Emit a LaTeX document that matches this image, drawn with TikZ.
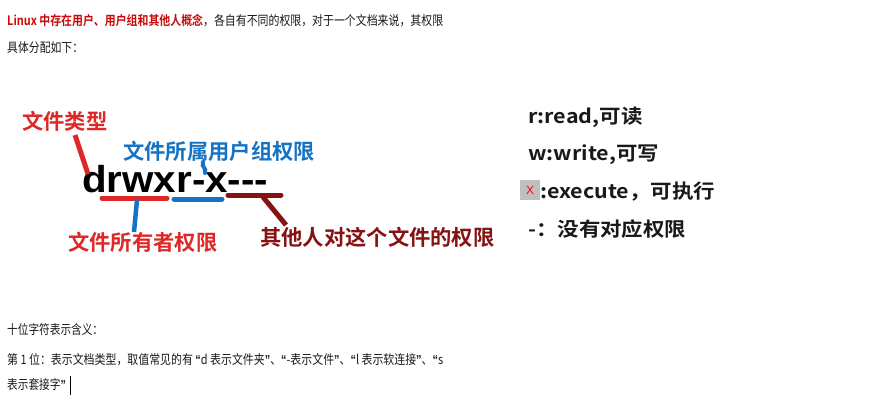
\documentclass[tikz,border=0pt]{standalone}
\usepackage{graphicx}
\usepackage{fontspec}
\setmainfont{Noto Sans CJK SC}
\newfontfamily\cjk{Noto Sans CJK SC}
\newfontfamily\cjkb{Noto Sans CJK SC Bold}
\newfontfamily\lat{Liberation Sans}
\definecolor{tred}{RGB}{200,10,10}
\definecolor{lred}{RGB}{222,40,40}
\definecolor{lblue}{RGB}{20,115,195}
\definecolor{dred}{RGB}{135,18,18}
\definecolor{txt}{RGB}{25,25,25}
\newcommand{\sqA}[1]{\scalebox{0.835}[1]{#1}}
\newcommand{\sqB}[1]{\scalebox{0.82}[1]{#1}}
\newcommand{\wideP}[1]{\scalebox{1.1}[1]{#1}}
\newcommand{\myLQ}{{\lat\bfseries “}}
\newcommand{\myRQ}{{\lat\bfseries ”}}
\tikzset{
  body/.style={anchor=base west,inner sep=0pt,text=txt,font=\cjk\fontsize{13}{15}\selectfont},
  lbl/.style={anchor=base west,inner sep=0pt,font=\cjkb\fontsize{21.3}{23}\selectfont},
  perm/.style={anchor=base west,inner sep=0pt,text=txt,font=\cjkb\fontsize{19.5}{21}\selectfont},
  uline/.style={line width=5pt,line cap=round},
}
\begin{document}
\begin{tikzpicture}[x=1pt,y=-1pt]
\useasboundingbox[fill=white] (0,0) rectangle (885,413);
% top paragraph
\node[body] (t1) at (7,25) {\resizebox{436pt}{\height}{{\cjkb\color{tred}Linux 中存在用户、用户组和其他人概念}，各自有不同的权限，对于一个文档来说，其权限}};
\node[body] (t2) at (7,52) {\sqA{具体分配如下：}};
% main string
\node[anchor=base west,inner sep=0pt,font=\lat\bfseries\fontsize{37.5}{40}\selectfont] (perm) at (82,192) {\resizebox{186pt}{\height}{drwxr-x---}};
% underlines
\coordinate (ua) at (102,198); \coordinate (ub) at (167,198);
\coordinate (ga) at (174,199); \coordinate (gb) at (222,199);
\coordinate (oa) at (228,195); \coordinate (ob) at (281,195);
\draw[uline,lred] (ua) -- (ub);
\draw[uline,lblue] (ga) -- (gb);
\draw[uline,dred] (oa) -- (ob);
% labels
\node[lbl,text=lred] (ltype) at (22,129) {文件类型};
\node[lbl,text=lblue] (lgroup) at (123,159) {文件所属用户组权限};
\node[lbl,text=lred] (lowner) at (68,250) {文件所有者权限};
\node[lbl,text=dred] (lother) at (260,245) {其他人对这个文件的权限};
% connectors
\coordinate (dtop) at (88,174);
\coordinate (ttop) at (75,135);
\draw[line width=5pt,lred] (ttop) -- (dtop);
\coordinate (gs) at (203,162);
\coordinate (ge) at (205,173);
\draw[line width=4pt,lblue,line cap=round] (gs) .. controls (201,167) and (207,168) .. (ge);
\coordinate (us) at (137,200);
\coordinate (ue) at (134,232);
\draw[line width=4.5pt,lblue] (us) -- (ue);
\coordinate (os) at (263,197);
\coordinate (oe) at (286,225);
\draw[line width=5pt,dred] (os) -- (oe);
% right list
\node[perm] (pr) at (528,123) {\wideP{r:read,可读}};
\node[perm] (pw) at (528,160) {\wideP{w:write,可写}};
\node[fill=black!25,minimum width=20pt,minimum height=20pt,inner sep=0pt,text=red,font=\lat\fontsize{12}{12}\selectfont] (icon) at (530,190) {X};
\node[perm] (px) at (540,198) {\wideP{:execute，可执行}};
\node[perm] (pd) at (528,236) {\wideP{-：没有对应权限}};
% bottom paragraph
\node[body] (b1) at (7,334) {\sqB{十位字符表示含义：}};
\node[body] (b2) at (7,364) {\resizebox{436pt}{\height}{第 1 位：表示文档类型，取值常见的有 \myLQ d 表示文件夹\myRQ、\myLQ -表示文件\myRQ、\myLQ l 表示软连接\myRQ、\myLQ s}};
\node[body] (b3) at (7,389) {\sqB{表示套接字\myRQ}};
\coordinate (c1) at ([xshift=4pt]b3.east |- 0,376);
\coordinate (c2) at ([xshift=4pt]b3.east |- 0,395);
\draw[line width=0.8pt,black] (c1) -- (c2);
\end{tikzpicture}
\end{document}
